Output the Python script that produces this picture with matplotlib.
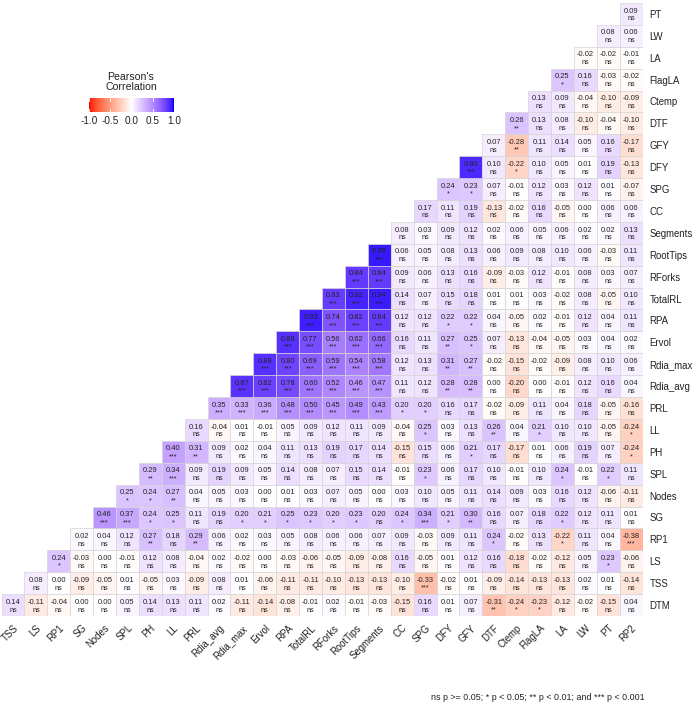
import numpy as np
import matplotlib
matplotlib.use("Agg")
from matplotlib import pyplot as plt
from matplotlib.colors import ListedColormap, Normalize
from matplotlib.patches import Rectangle

plt.rcParams['font.family'] = ['Liberation Sans', 'DejaVu Sans']

variables = ["DTM", "TSS", "LS", "RP1", "SG", "Nodes", "SPL", "PH", "LL", "PRL",
             "Rdia_avg", "Rdia_max", "Ervol", "RPA", "TotalRL", "RForks", "RootTips",
             "Segments", "CC", "SPG", "DFY", "GFY", "DTF", "Ctemp", "FlagLA", "LA",
             "LW", "PT", "RP2"]

# each row: correlations with the variables that come after it (left to right)
r_DTM = [0.14, -0.11, -0.04, 0.00, 0.00, 0.05, 0.14, 0.13, 0.11, 0.02, -0.11, -0.14, -0.08, -0.01,
         0.02, -0.01, -0.03, -0.15, 0.16, 0.01, 0.07, -0.31, -0.24, -0.23, -0.12, -0.02, -0.15, 0.04]
r_TSS = [0.08, 0.00, -0.09, -0.05, 0.01, -0.05, 0.03, -0.09, 0.08, 0.01, -0.06, -0.11, -0.11, -0.10,
         -0.13, -0.13, -0.10, -0.33, -0.02, 0.01, -0.09, -0.14, -0.13, -0.13, 0.02, 0.01, -0.14]
r_LS = [0.24, -0.03, 0.00, -0.01, 0.12, 0.08, -0.04, 0.02, -0.02, 0.00, -0.03, -0.06, -0.05, -0.09,
        -0.08, 0.16, -0.05, 0.01, 0.12, 0.16, -0.18, -0.02, -0.12, 0.05, 0.23, -0.06]
r_RP1 = [0.02, 0.04, 0.12, 0.27, 0.18, 0.29, 0.06, 0.02, 0.03, 0.05, 0.08, 0.06, 0.06, 0.07, 0.09,
         -0.03, 0.09, 0.11, 0.24, -0.02, 0.13, -0.22, 0.11, 0.04, -0.38]
r_SG = [0.46, 0.37, 0.24, 0.25, 0.11, 0.19, 0.20, 0.21, 0.25, 0.23, 0.20, 0.23, 0.20, 0.24, 0.34,
        0.21, 0.30, 0.16, 0.07, 0.18, 0.22, 0.12, 0.11, 0.01]
r_Nodes = [0.25, 0.24, 0.27, 0.04, 0.05, 0.03, 0.00, 0.01, 0.03, 0.07, 0.05, 0.00, 0.03, 0.10, 0.05,
           0.11, 0.14, 0.09, 0.03, 0.16, 0.12, -0.06, -0.11]
r_SPL = [0.29, 0.34, 0.09, 0.19, 0.09, 0.05, 0.14, 0.08, 0.07, 0.15, 0.14, -0.01, 0.23, 0.06, 0.17,
         0.10, -0.01, 0.10, 0.24, -0.01, 0.22, 0.11]
r_PH = [0.40, 0.31, 0.09, 0.02, 0.04, 0.11, 0.13, 0.19, 0.17, 0.14, -0.15, 0.15, 0.06, 0.21, 0.17,
        -0.17, 0.01, 0.06, 0.19, 0.07, -0.24]
r_LL = [0.16, -0.04, 0.01, -0.01, 0.05, 0.09, 0.12, 0.11, 0.09, -0.04, 0.25, 0.03, 0.13, 0.26, 0.04,
        0.21, 0.10, 0.10, -0.05, -0.24]
r_PRL = [0.35, 0.33, 0.36, 0.48, 0.50, 0.45, 0.49, 0.43, 0.20, 0.20, 0.16, 0.17, -0.02, -0.09, 0.11,
         0.04, 0.18, -0.05, -0.16]
r_Rdia_avg = [0.87, 0.82, 0.78, 0.60, 0.52, 0.46, 0.47, 0.11, 0.12, 0.28, 0.28, 0.00, -0.20, 0.00,
              -0.01, 0.12, 0.16, 0.04]
r_Rdia_max = [0.88, 0.80, 0.69, 0.59, 0.54, 0.58, 0.12, 0.13, 0.31, 0.27, -0.02, -0.15, -0.02, -0.09,
              0.08, 0.10, 0.06]
r_Ervol = [0.88, 0.77, 0.56, 0.62, 0.66, 0.16, 0.11, 0.27, 0.25, 0.07, -0.13, -0.04, -0.05, 0.03,
           0.04, 0.02]
r_RPA = [0.93, 0.74, 0.82, 0.84, 0.12, 0.12, 0.22, 0.22, 0.04, -0.05, 0.02, -0.01, 0.12, 0.04, 0.11]
r_TotalRL = [0.83, 0.92, 0.94, 0.14, 0.07, 0.15, 0.18, 0.01, 0.01, 0.03, -0.02, 0.08, -0.05, 0.10]
r_RForks = [0.84, 0.84, 0.09, 0.06, 0.13, 0.16, -0.09, -0.03, 0.12, -0.01, 0.08, 0.03, 0.07]
r_RootTips = [0.95, 0.06, 0.05, 0.08, 0.13, 0.06, 0.09, 0.08, 0.10, 0.06, -0.03, 0.11]
r_Segments = [0.08, 0.03, 0.09, 0.12, 0.02, 0.06, 0.05, 0.06, 0.02, 0.02, 0.13]
r_CC = [0.17, 0.11, 0.19, -0.13, -0.02, 0.16, -0.05, 0.00, 0.06, 0.06]
r_SPG = [0.24, 0.23, 0.07, -0.01, 0.12, 0.03, 0.12, 0.01, -0.07]
r_DFY = [0.90, 0.10, -0.22, 0.10, 0.05, 0.01, 0.19, -0.13]
r_GFY = [0.07, -0.28, 0.11, 0.14, 0.05, 0.16, -0.17]
r_DTF = [0.26, 0.13, 0.08, -0.10, -0.04, -0.10]
r_Ctemp = [0.13, 0.09, -0.04, -0.10, -0.09]
r_FlagLA = [0.25, 0.16, -0.03, -0.02]
r_LA = [-0.02, -0.02, -0.01]
r_LW = [0.08, 0.06]
r_PT = [0.09]

# significance labels, same order
s_DTM = "ns ns ns ns ns ns ns ns ns ns ns ns ns ns ns ns ns ns ns ns ns ** * * ns ns ns ns"
s_TSS = "ns ns ns ns ns ns ns ns ns ns ns ns ns ns ns ns ns *** ns ns ns ns ns ns ns ns ns"
s_LS = "* ns ns ns ns ns ns ns ns ns ns ns ns ns ns ns ns ns ns ns ns ns ns ns * ns"
s_RP1 = "ns ns ns ** ns ** ns ns ns ns ns ns ns ns ns ns ns ns * ns ns * ns ns ***"
s_SG = "*** *** * * ns ns * * * * * * ns * *** * ** ns ns ns * ns ns ns"
s_Nodes = "* * ** ns ns ns ns ns ns ns ns ns ns ns ns ns ns ns ns ns ns ns ns"
s_SPL = "** *** ns ns ns ns ns ns ns ns ns ns * ns ns ns ns ns * ns * ns"
s_PH = "*** ** ns ns ns ns ns ns ns ns ns ns ns * ns ns ns ns ns ns *"
s_LL = "ns ns ns ns ns ns ns ns ns ns * ns ns ** ns * ns ns ns *"
s_PRL = "*** *** *** *** *** *** *** *** * * ns ns ns ns ns ns ns ns ns"
s_Rdia_avg = "*** *** *** *** *** *** *** ns ns ** ** ns ns ns ns ns ns ns"
s_Rdia_max = "*** *** *** *** *** *** ns ns ** ** ns ns ns ns ns ns ns"
s_Ervol = "*** *** *** *** *** ns ns ** * ns ns ns ns ns ns ns"
s_RPA = "*** *** *** *** ns ns * * ns ns ns ns ns ns ns"
s_TotalRL = "*** *** *** ns ns ns ns ns ns ns ns ns ns ns"
s_RForks = "*** *** ns ns ns ns ns ns ns ns ns ns ns"
s_RootTips = "*** ns ns ns ns ns ns ns ns ns ns ns"
s_Segments = "ns ns ns ns ns ns ns ns ns ns ns"
s_CC = "ns ns ns ns ns ns ns ns ns ns"
s_SPG = "* * ns ns ns ns ns ns ns"
s_DFY = "*** ns * ns ns ns ns ns"
s_GFY = "ns ** ns ns ns ns ns"
s_DTF = "** ns ns ns ns ns"
s_Ctemp = "ns ns ns ns ns"
s_FlagLA = "* ns ns ns"
s_LA = "ns ns ns"
s_LW = "ns ns"
s_PT = "ns"

rows = [r_DTM, r_TSS, r_LS, r_RP1, r_SG, r_Nodes, r_SPL, r_PH, r_LL, r_PRL, r_Rdia_avg,
        r_Rdia_max, r_Ervol, r_RPA, r_TotalRL, r_RForks, r_RootTips, r_Segments, r_CC,
        r_SPG, r_DFY, r_GFY, r_DTF, r_Ctemp, r_FlagLA, r_LA, r_LW, r_PT]
sigs = [s_DTM, s_TSS, s_LS, s_RP1, s_SG, s_Nodes, s_SPL, s_PH, s_LL, s_PRL, s_Rdia_avg,
        s_Rdia_max, s_Ervol, s_RPA, s_TotalRL, s_RForks, s_RootTips, s_Segments, s_CC,
        s_SPG, s_DFY, s_GFY, s_DTF, s_Ctemp, s_FlagLA, s_LA, s_LW, s_PT]


# red - white - blue gradient interpolated in CIELAB (like ggplot)
def to_lab(rgb):
    c = np.array(rgb, dtype=float)
    c = np.where(c <= 0.04045, c / 12.92, ((c + 0.055) / 1.055) ** 2.4)
    m = np.array([[0.4124, 0.3576, 0.1805], [0.2126, 0.7152, 0.0722], [0.0193, 0.1192, 0.9505]])
    xyz = m @ c / np.array([0.95047, 1.0, 1.08883])
    f = np.where(xyz > 0.008856, np.cbrt(xyz), 7.787 * xyz + 16 / 116)
    return np.array([116 * f[1] - 16, 500 * (f[0] - f[1]), 200 * (f[1] - f[2])])


def from_lab(lab):
    L, a, b = lab
    fy = (L + 16) / 116
    fx = fy + a / 500
    fz = fy - b / 200
    f = np.array([fx, fy, fz])
    xyz = np.where(f ** 3 > 0.008856, f ** 3, (f - 16 / 116) / 7.787) * np.array([0.95047, 1.0, 1.08883])
    m = np.array([[3.2406, -1.5372, -0.4986], [-0.9689, 1.8758, 0.0415], [0.0557, -0.2040, 1.0570]])
    c = m @ xyz
    c = np.where(c <= 0.0031308, 12.92 * c, 1.055 * np.clip(c, 0, None) ** (1 / 2.4) - 0.055)
    return np.clip(c, 0, 1)


lab_red, lab_white, lab_blue = to_lab([1, 0, 0]), to_lab([1, 1, 1]), to_lab([0, 0, 1])
cols = []
for t in np.linspace(-1, 1, 257):
    if t < 0:
        cols.append(from_lab(lab_white + (-t) * (lab_red - lab_white)))
    else:
        cols.append(from_lab(lab_white + t * (lab_blue - lab_white)))
cmap = ListedColormap(cols)
norm = Normalize(-1, 1)

n = len(rows)

fig = plt.figure(figsize=(6.97, 7.09), dpi=100)
ax = fig.add_axes([0.0022, 0.1312, 0.9197, 0.8646])

for i, vals in enumerate(rows):
    labels = sigs[i].split()
    for k, v in enumerate(vals):
        j = i + k
        ax.add_patch(Rectangle((j, i), 1, 1, facecolor=cmap(norm(v)), edgecolor='#d5d5d5', linewidth=0.5))
        ax.text(j + 0.5, i + 0.63, f"{v:.2f}", ha='center', va='center', fontsize=5.4, color='#222222')
        ax.text(j + 0.5, i + 0.27, labels[k], ha='center', va='center', fontsize=5.2, color='#222222')

ax.set_xlim(0, n)
ax.set_ylim(0, n)
ax.set_xticks(np.arange(n) + 0.5)
ax.set_xticklabels(variables[1:], rotation=45, ha='right', va='top', rotation_mode='anchor',
                   fontsize=6.9, color='#222222')
ax.yaxis.tick_right()
ax.set_yticks(np.arange(n) + 0.5)
ax.set_yticklabels(variables[:-1], fontsize=6.9, color='#222222')
ax.tick_params(length=0, pad=5)
for sp in ax.spines.values():
    sp.set_visible(False)

# colour legend
cax = fig.add_axes([89 / 697, 1 - 112 / 709, 85 / 697, 14 / 709])
cax.imshow(np.linspace(-1, 1, 200)[None, :], cmap=cmap, vmin=-1, vmax=1, aspect='auto',
           extent=[-1, 1, 0, 1])
for t in [-1, -0.5, 0, 0.5, 1]:
    cax.plot([t, t], [0, 0.2], color='white', lw=0.6)
    cax.plot([t, t], [0.8, 1], color='white', lw=0.6)
cax.set_xlim(-1, 1)
cax.set_ylim(0, 1)
cax.set_yticks([])
cax.set_xticks([-1, -0.5, 0, 0.5, 1])
cax.set_xticklabels(["-1.0", "-0.5", "0.0", "0.5", "1.0"], fontsize=7.2, color='#222222')
cax.tick_params(length=0, pad=3)
for sp in cax.spines.values():
    sp.set_visible(False)
fig.text(131 / 697, 1 - 82 / 709, "Pearson's\nCorrelation", ha='center', va='center',
         fontsize=7.6, color='#222222', linespacing=1.0)

fig.text(645 / 697, 1 - 697 / 709, "ns p >= 0.05; * p < 0.05; ** p < 0.01; and *** p < 0.001",
         ha='right', va='center', fontsize=6.4, color='#222222')

fig.savefig("out.png", dpi=100, facecolor='white')
